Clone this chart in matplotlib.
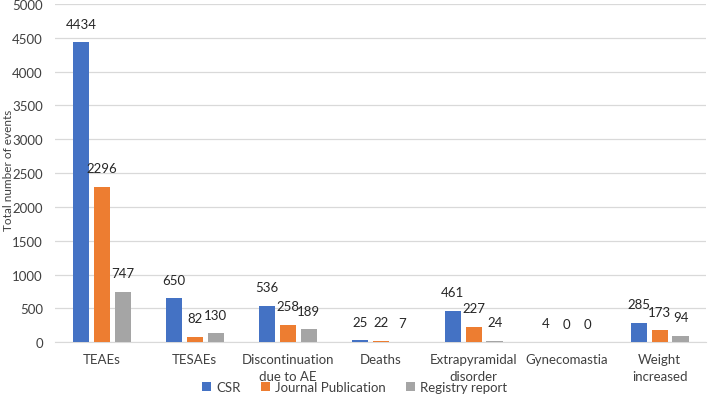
import matplotlib
matplotlib.use("Agg")
import matplotlib.pyplot as plt
import numpy as np

categories = ["TEAEs", "TESAEs", "Discontinuation\ndue to AE", "Deaths",
              "Extrapyramidal\ndisorder", "Gynecomastia", "Weight\nincreased"]
csr = [4434, 650, 536, 25, 461, 4, 285]
journal = [2296, 82, 258, 22, 227, 0, 173]
registry = [747, 130, 189, 7, 24, 0, 94]
series_names = ["CSR", "Journal Publication", "Registry report"]
colors = ["#4472C4", "#ED7D31", "#A5A5A5"]

plt.rcParams['font.family'] = ['Lato', 'DejaVu Sans']
fig = plt.figure(figsize=(7.09, 4.10), dpi=100)
ax = fig.add_axes([0.078, 0.163, 0.918, 0.825])

x = np.arange(len(categories))
w = 0.175
gap = 0.05
offsets = [-(w + gap), 0, (w + gap)]
for vals, off, col, name in zip([csr, journal, registry], offsets, colors, series_names):
    bars = ax.bar(x + off, vals, width=w, color=col, label=name, zorder=3)
    for b, v in zip(bars, vals):
        ax.annotate(str(v), (b.get_x() + b.get_width() / 2, v), xytext=(0, 9),
                    textcoords='offset points', ha='center', va='bottom',
                    fontsize=9.5, color='#262626')

ax.set_xlim(-0.5, len(categories) - 0.5)
ax.set_ylim(0, 5000)
ax.set_yticks(range(0, 5001, 500))
ax.set_xticks(x)
ax.set_xticklabels(categories, fontsize=9.5, color='#404040', linespacing=1.5)
ax.tick_params(axis='y', labelsize=9.5, colors='#404040', length=0, pad=9)
ax.tick_params(axis='x', length=0, pad=8)
ax.yaxis.grid(True, color='#D9D9D9', linewidth=0.9, zorder=0)
for s in ['top', 'right', 'left']:
    ax.spines[s].set_visible(False)
ax.spines['bottom'].set_color('#D9D9D9')
fig.text(0.012, 0.585, "Total number of events", rotation=90, ha='center', va='center',
         fontsize=8.5, color='#404040')

ax.legend(loc='center', bbox_to_anchor=(0.46, -0.133), ncol=3, frameon=False,
          fontsize=9.5, handlelength=0.7, handleheight=0.7, handletextpad=0.4,
          columnspacing=1.5, labelcolor='#404040')

fig.savefig("out.png", dpi=100)
